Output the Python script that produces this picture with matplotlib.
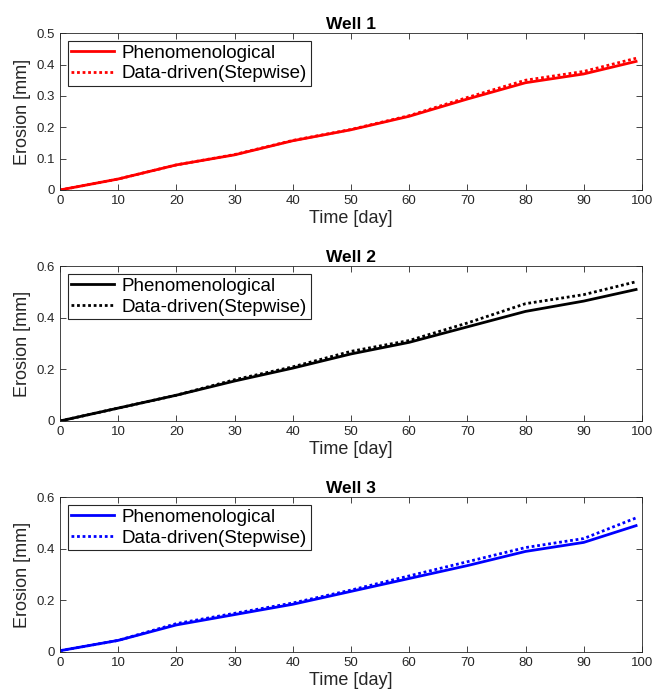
import numpy as np
import matplotlib
matplotlib.use("Agg")
import matplotlib.pyplot as plt

plt.rcParams['font.family'] = ['Liberation Sans', 'DejaVu Sans']

# temps (jours)
days = [0, 10, 20, 30, 40, 50, 60, 70, 80, 90, 99]

# erosion [mm]
well1_phen = [0.0, 0.035, 0.080, 0.112, 0.157, 0.192, 0.235, 0.290, 0.342, 0.370, 0.410]
well1_data = [0.0, 0.035, 0.080, 0.113, 0.158, 0.193, 0.237, 0.295, 0.350, 0.378, 0.420]

well2_phen = [0.0, 0.050, 0.100, 0.155, 0.205, 0.260, 0.305, 0.365, 0.425, 0.465, 0.510]
well2_data = [0.0, 0.050, 0.100, 0.160, 0.210, 0.270, 0.312, 0.380, 0.455, 0.490, 0.540]

well3_phen = [0.005, 0.045, 0.105, 0.145, 0.185, 0.235, 0.285, 0.335, 0.390, 0.425, 0.490]
well3_data = [0.005, 0.045, 0.110, 0.150, 0.190, 0.240, 0.295, 0.350, 0.405, 0.440, 0.520]

titles = ["Well 1", "Well 2", "Well 3"]
colors = ["#ff0000", "#000000", "#0000ff"]
series = [(well1_phen, well1_data), (well2_phen, well2_data), (well3_phen, well3_data)]
ylims = [(0, 0.5), (0, 0.6), (0, 0.6)]
yticks = [[0, 0.1, 0.2, 0.3, 0.4, 0.5], [0, 0.2, 0.4, 0.6], [0, 0.2, 0.4, 0.6]]
ytlabels = [["0", "0.1", "0.2", "0.3", "0.4", "0.5"], ["0", "0.2", "0.4", "0.6"], ["0", "0.2", "0.4", "0.6"]]

fig = plt.figure(figsize=(6.56, 7.0), dpi=100)
boxes = [[0.0915, 0.7286, 0.887, 0.224],
         [0.0915, 0.3986, 0.887, 0.221],
         [0.0915, 0.0686, 0.887, 0.221]]

for i in range(3):
    ax = fig.add_axes(boxes[i])
    phen, data = series[i]
    ax.plot(days, phen, color=colors[i], lw=2, label="Phenomenological")
    ax.plot(days, data, color=colors[i], lw=2, ls=(0, (1, 1)), label="Data-driven(Stepwise)")
    ax.set_xlim(0, 100)
    ax.set_ylim(*ylims[i])
    ax.set_xticks(range(0, 101, 10))
    ax.set_xticklabels([str(v) for v in range(0, 101, 10)])
    ax.set_yticks(yticks[i])
    ax.set_yticklabels(ytlabels[i])
    ax.tick_params(direction='in', top=True, right=True, labelsize=9.5,
                   colors='#262626', length=4, width=0.6)
    for s in ax.spines.values():
        s.set_color('#262626')
        s.set_linewidth(0.6)
    ax.set_xlabel("Time [day]", fontsize=13, color='#262626', labelpad=2)
    ax.set_ylabel("Erosion [mm]", fontsize=13, color='#262626', labelpad=4)
    ax.set_title(titles[i], fontsize=12.5, fontweight='bold', pad=3)
    leg = ax.legend(loc='upper left', fontsize=13.5, fancybox=False, framealpha=1,
                    edgecolor='#262626', handlelength=2.3, borderpad=0.2,
                    labelspacing=0.2, handletextpad=0.4, borderaxespad=0.4)
    leg.get_frame().set_linewidth(0.8)

plt.savefig("out.png", dpi=100)
